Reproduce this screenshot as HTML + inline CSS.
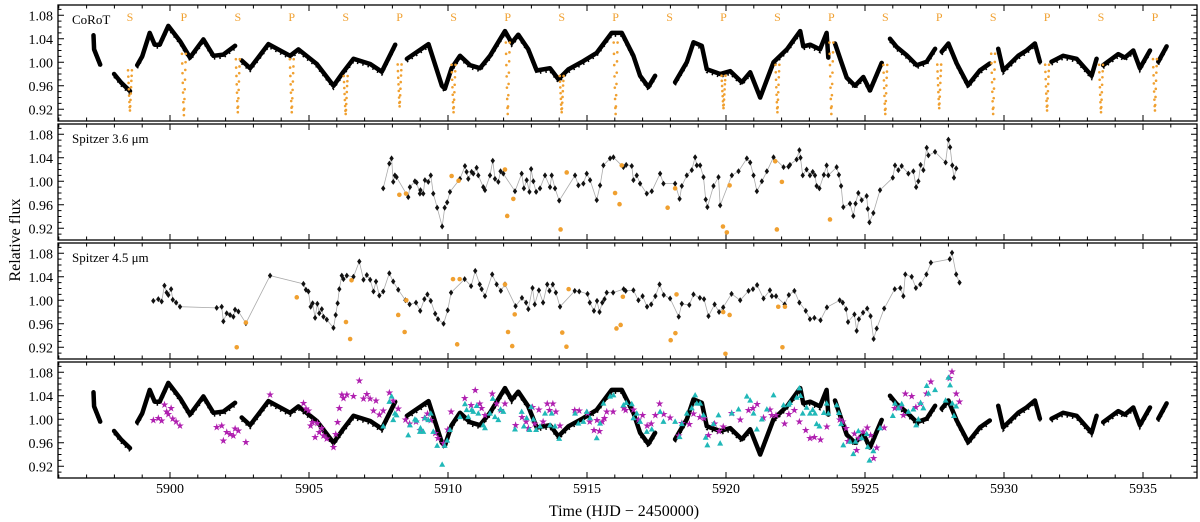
<!DOCTYPE html>
<html><head><meta charset="utf-8"><style>
html,body{margin:0;padding:0;background:#fff;}
svg{display:block;font-family:"Liberation Serif","DejaVu Serif",serif;}
</style></head><body>
<svg id="chart" width="1200" height="522" viewBox="0 0 1200 522" xmlns="http://www.w3.org/2000/svg">
<text x="0" y="0" transform="translate(20,240) rotate(-90)" text-anchor="middle" font-size="16">Relative flux</text>
<text x="624" y="516" text-anchor="middle" font-size="16">Time (HJD − 2450000)</text>
</svg>
<script>
// ---- data ----
const corotT=[5897.25,5897.27,5897.49,null,5897.99,5898.25,5898.56,null,5898.82,5899.0,5899.27,5899.45,5899.63,5899.94,5900.36,5900.72,5901.2,5901.56,5901.92,5902.34,null,5902.58,5902.88,5903.54,5904.32,5904.62,5905.28,5905.88,5906.24,5906.6,5907.2,5907.62,5908.1,null,5908.52,5909.3,5909.78,5909.89,5910.13,5910.43,5910.79,5911.15,5911.51,5912.05,5912.29,5912.53,5912.89,5913.19,5913.67,5913.97,5914.33,5914.87,5915.35,5915.89,5916.25,5916.67,5916.91,5917.21,5917.45,null,5918.17,5918.59,5918.83,5919.13,5919.31,5919.79,5920.15,5920.57,5920.87,5921.23,5921.71,5922.19,5922.67,5922.78,5923.03,5923.38,5923.62,5923.68,null,5923.92,5924.16,5924.34,5924.64,5924.94,5925.18,5925.6,null,5925.9,5926.14,5926.5,5926.86,5927.22,5927.52,null,5927.76,5928.0,5928.3,5928.71,5929.13,5929.49,null,5929.79,5929.97,5930.51,5930.81,5931.11,5931.29,null,5931.71,5932.13,5932.61,5933.15,5933.33,null,5933.57,5934.11,5934.35,5934.65,5934.89,5935.25,null,5935.55,5935.85];
const corotF=[1.046,1.022,0.996,null,0.980,0.965,0.951,null,0.995,1.010,1.050,1.030,1.030,1.062,1.036,1.008,1.039,1.011,1.013,1.028,null,1.003,0.990,1.031,1.011,1.022,0.997,0.960,0.984,1.006,0.997,0.984,1.030,null,1.006,1.031,0.960,0.955,0.990,1.011,0.995,0.990,1.011,1.053,1.033,1.047,1.022,0.986,0.990,0.971,0.988,1.002,1.016,1.050,1.050,1.011,0.977,0.958,0.977,null,0.966,1.000,1.034,1.028,0.988,0.980,0.985,0.966,0.983,0.940,1.000,1.022,1.053,1.027,1.030,1.022,1.050,1.008,null,1.032,0.999,0.974,0.960,0.975,0.952,0.999,null,1.040,1.026,1.012,0.995,1.001,1.023,null,1.018,1.032,0.998,0.961,0.986,0.998,null,1.023,0.986,1.011,1.020,1.032,1.001,null,1.001,1.011,1.006,0.977,1.006,null,0.995,1.014,1.008,1.020,0.990,1.020,null,1.001,1.027];
const eclipseT=[5898.56,5900.50,5902.44,5904.38,5906.32,5908.26,5910.20,5912.15,5914.09,5916.03,5917.97,5919.91,5921.85,5923.79,5925.73,5927.67,5929.61,5931.55,5933.49,5935.43];
const eclipseLabel=["S","P","S","P","S","P","S","P","S","P","S","P","S","P","S","P","S","P","S","P"];
const eclipseBase=[0.990,1.020,1.010,1.010,0.980,1.000,1.000,1.040,0.980,1.040,null,0.980,1.000,1.040,1.000,1.000,1.020,1.000,1.000,1.010];
const eclipseMin=[0.918,0.910,0.915,0.915,0.912,0.925,0.915,0.912,0.915,0.912,null,0.922,0.915,0.912,0.912,0.922,0.912,0.918,0.915,0.918];
const eclipseShapeDt=[-0.07,-0.06,-0.05,-0.04,-0.03,-0.02,-0.01,0.0,0.01,0.02,0.03,0.04,0.05,0.06,0.07];
const eclipseShapeDepth=[0.05,0.2,0.35,0.5,0.65,0.8,0.92,1.0,0.9,0.75,0.6,0.45,0.3,0.18,0.05];

const s36T=[5907.67,5907.89,5907.97,5908.03,5908.09,5908.15,5908.57,5908.63,5908.81,5908.87,5908.99,5909.01,5909.11,5909.17,5909.29,5909.38,5909.47,5909.61,5909.79,5909.88,5909.97,5910.07,5910.43,5910.61,5910.67,5910.73,5910.85,5910.91,5911.03,5911.09,5911.27,5911.33,5911.51,5911.61,5911.69,5911.81,5911.89,5911.99,5912.41,5912.65,5912.73,5912.83,5912.93,5912.99,5913.07,5913.17,5913.31,5913.49,5913.67,5913.73,5913.85,5914.00,5914.57,5914.69,5914.87,5914.99,5915.11,5915.35,5915.47,5915.59,5915.83,5915.95,5916.31,5916.41,5916.61,5916.67,5916.79,5916.91,5917.15,5917.33,5917.63,5917.75,5918.17,5918.33,5918.41,5918.59,5918.77,5918.89,5918.95,5919.07,5919.19,5919.27,5919.33,5919.55,5919.73,5919.79,5920.21,5920.45,5920.75,5920.87,5920.99,5921.11,5921.29,5921.47,5921.71,5922.07,5922.25,5922.30,5922.54,5922.64,5922.68,5922.76,5922.90,5923.02,5923.12,5923.20,5923.26,5923.36,5923.52,5923.62,5923.68,5923.98,5924.06,5924.14,5924.22,5924.46,5924.58,5924.66,5924.76,5924.88,5925.06,5925.10,5925.16,5925.30,5925.54,5926.00,5926.08,5926.20,5926.32,5926.56,5926.74,5926.84,5926.92,5927.00,5927.10,5927.22,5927.28,5927.52,5927.90,5928.00,5928.06,5928.14,5928.20,5928.28];
const s36F=[0.988,1.030,1.039,0.999,1.010,1.007,0.973,0.990,1.000,0.998,0.979,0.985,0.979,1.002,0.999,1.010,0.979,0.955,0.923,0.955,0.964,0.982,1.004,1.026,1.016,1.004,1.016,1.013,1.023,1.010,0.990,0.985,1.010,1.035,1.004,0.999,1.017,1.013,0.983,1.013,0.988,1.002,0.982,1.021,1.000,0.982,0.988,1.010,0.990,1.010,0.988,0.967,1.010,0.993,0.996,1.013,1.002,0.968,0.993,1.027,1.039,1.041,1.024,1.028,1.026,1.002,1.010,0.996,0.979,0.983,1.013,0.996,0.996,0.970,0.992,1.010,1.019,1.041,1.027,1.027,1.007,0.969,0.956,0.992,1.007,0.959,1.010,1.017,1.039,1.032,1.010,0.983,1.000,1.017,1.041,1.024,1.025,1.028,1.037,1.053,1.040,1.010,1.020,1.010,1.016,1.010,0.992,0.988,1.011,1.027,1.010,1.024,1.011,0.992,0.956,0.962,0.941,0.962,0.980,0.968,0.975,0.953,0.930,0.946,0.985,1.006,1.027,1.019,1.026,1.013,1.017,0.990,1.000,1.028,1.019,1.057,1.044,1.050,1.032,1.071,1.058,1.027,1.006,1.022];
const s36EclT=[5908.25,5908.49,5910.13,5910.38,5912.05,5912.13,5912.35,5914.05,5914.27,5916.01,5916.17,5916.25,5917.90,5918.17,5919.89,5920.03,5920.13,5921.77,5921.83,5922.01,5923.74];
const s36EclF=[0.977,0.979,1.009,1.001,1.020,0.941,0.970,0.918,1.015,0.980,0.961,1.027,0.955,0.988,0.923,0.913,0.993,1.034,0.918,0.999,0.935];

const s45T=[5899.40,5899.58,5899.70,5899.80,5899.88,5899.94,5900.04,5900.10,5900.22,5900.36,5901.68,5901.86,5901.92,5902.04,5902.16,5902.28,5902.34,5902.46,5902.73,5903.60,5904.80,5904.89,5904.98,5905.06,5905.13,5905.22,5905.30,5905.37,5905.46,5905.52,5905.64,5905.88,5905.96,5906.03,5906.09,5906.18,5906.24,5906.36,5906.60,5906.81,5906.96,5907.08,5907.20,5907.32,5907.41,5907.53,5907.67,5907.89,5908.03,5908.21,5908.47,5908.62,5908.85,5909.00,5909.15,5909.26,5909.38,5909.54,5909.64,5909.84,5909.99,5910.11,5910.60,5910.83,5910.98,5911.14,5911.21,5911.33,5911.59,5911.75,5911.90,5912.05,5912.43,5912.66,5912.81,5912.89,5913.04,5913.12,5913.27,5913.42,5913.57,5913.65,5913.77,5913.88,5914.03,5914.56,5914.72,5915.02,5915.10,5915.25,5915.36,5915.45,5915.55,5915.63,5915.71,5915.94,5916.32,5916.39,5916.67,5916.85,5917.00,5917.16,5917.31,5917.46,5917.61,5917.76,5917.99,5918.30,5918.41,5918.68,5918.83,5919.06,5919.21,5919.37,5919.59,5919.75,5919.90,5920.20,5920.51,5920.81,5920.97,5921.12,5921.35,5921.58,5921.65,5921.80,5922.11,5922.26,5922.46,5922.64,5922.87,5923.02,5923.18,5923.40,5923.63,5924.09,5924.20,5924.32,5924.39,5924.62,5924.70,5924.78,5924.93,5925.08,5925.20,5925.31,5925.42,5925.69,5926.07,5926.27,5926.38,5926.45,5926.68,5926.83,5926.99,5927.21,5927.37,5928.05,5928.13,5928.28,5928.40];
const s45F=[0.999,1.002,0.998,1.025,1.013,1.009,1.019,1.001,0.996,0.989,0.987,0.989,0.964,0.978,0.975,0.972,0.984,0.981,0.961,1.042,1.028,1.018,1.015,0.989,0.995,0.970,0.994,0.978,0.985,0.972,0.967,0.953,0.975,0.995,1.019,1.042,1.036,1.042,1.040,1.066,1.035,1.043,1.035,1.015,1.032,1.008,1.015,1.046,1.032,1.018,1.000,0.993,0.996,0.982,1.002,1.010,0.999,0.977,0.968,0.960,0.983,1.013,1.036,1.024,1.050,1.027,1.019,1.007,1.044,1.027,1.016,1.027,0.990,1.004,0.996,0.985,1.021,0.993,1.017,0.996,1.027,1.016,1.027,1.013,0.989,1.016,1.015,1.011,0.996,0.982,0.999,0.980,0.996,1.002,1.013,1.013,1.019,1.016,1.017,1.000,1.007,0.989,0.993,1.007,1.027,1.009,1.003,0.972,0.994,0.992,1.010,1.004,1.002,0.973,0.993,0.980,0.988,1.011,1.000,1.016,1.019,1.026,1.003,1.017,1.007,1.007,0.993,1.009,1.016,0.996,0.982,0.968,0.970,0.966,0.988,1.000,0.996,0.985,0.963,0.976,0.948,0.968,0.979,0.986,0.973,0.934,0.952,0.986,1.019,1.021,1.007,1.044,1.040,1.021,1.027,1.044,1.064,1.070,1.081,1.044,1.030];
const s45EclT=[5902.40,5902.73,5904.56,5906.33,5906.48,5906.53,5908.21,5908.44,5908.50,5910.18,5910.33,5910.42,5912.05,5912.16,5912.31,5912.40,5914.11,5914.26,5914.34,5916.06,5916.21,5916.29,5918.01,5918.18,5918.22,5919.90,5919.98,5920.13,5921.88,5922.03,5922.12];
const s45EclF=[0.920,0.962,1.005,0.963,0.934,1.034,0.975,0.946,1.000,1.036,0.925,1.036,1.027,0.946,0.922,0.976,0.945,0.921,1.019,0.952,0.958,1.006,0.932,0.944,1.010,0.980,0.909,0.975,0.989,0.920,0.989];

const xTickLabels=["5900","5905","5910","5915","5920","5925","5930","5935"];
const yTickLabels=["0.92","0.96","1.00","1.04","1.08"];
const panelLabels=["CoRoT","Spitzer 3.6 μm","Spitzer 4.5 μm",""];

// ---- layout ----
const NS="http://www.w3.org/2000/svg";
const svg=document.getElementById('chart');
const L=58,R=1197,PH=116;
const tops=[5,124,243,362];
function X(t){return 170+(t-5900)*27.8;}
function Y(p,f){return tops[p]+(1.0975-f)*587.5;}
function el(tag,attrs,parent){const e=document.createElementNS(NS,tag);for(const k in attrs)e.setAttribute(k,attrs[k]);(parent||svg).appendChild(e);return e;}
const ORANGE="#f0a030";

for(let p=0;p<4;p++){
  const g=el('g',{});
  
  
  const fr=el('rect',{x:L,y:tops[p],width:R-L,height:PH,fill:'none',stroke:'#000','stroke-width':1.3},g);
  
  
  let d='';
  for(let t=5896;t<=5936;t++){
    const x=X(t); if(x<L||x>R) continue;
    const len=(t%5===0)?6:3.5;
    d+=`M${x} ${tops[p]+PH}v${-len}M${x} ${tops[p]}v${len}`;
  }
  for(let k=90;k<=109;k++){
    const f=k/100, y=Y(p,f); if(y<tops[p]||y>tops[p]+PH) continue;
    const len=(k%4===0)?6:3.5;
    d+=`M${L} ${y}h${len}M${R} ${y}h${-len}`;
  }
  const tk=el('path',{d:d,stroke:'#000','stroke-width':1,fill:'none'},g);
  
  
  yTickLabels.forEach(s=>{
    const tx=el('text',{x:53,y:Y(p,parseFloat(s))+5,'text-anchor':'end','font-size':14},g);
    tx.textContent=s;
    
    
  });
  if(panelLabels[p]){
    const lb=el('text',{x:72,y:tops[p]+19,'font-size':13},g);
    lb.textContent=panelLabels[p];
    
    
  }
}
xTickLabels.forEach(s=>{
  const tx=el('text',{x:X(parseFloat(s)),y:493,'text-anchor':'middle','font-size':14});
  tx.textContent=s;
  
  
});

function corot(p){
  let d='',pen=false;
  for(let i=0;i<corotT.length;i++){
    if(corotT[i]===null){pen=false;continue;}
    d+=(pen?'L':'M')+X(corotT[i]).toFixed(1)+' '+Y(p,corotF[i]).toFixed(1);
    pen=true;
  }
  const pl=el('path',{d:d,fill:'none',stroke:'#000','stroke-width':4.5,'stroke-linejoin':'round','stroke-linecap':'round'});
  
  
  const sc=el('path',{d:d,fill:'none',stroke:'#000','stroke-width':2,'stroke-dasharray':'1.5 4','transform':'translate(0,3)'});
  
  
}
corot(0);
eclipseT.forEach((t,i)=>{
  const lb=el('text',{x:X(t),y:tops[0]+16,'text-anchor':'middle','font-size':12,fill:ORANGE});
  lb.textContent=eclipseLabel[i];
  
  
  if(eclipseBase[i]===null) return;
  const depth=eclipseBase[i]-eclipseMin[i];
  eclipseShapeDt.forEach((dt,j)=>{
    const c=el('circle',{cx:X(t+dt),cy:Y(0,eclipseBase[i]-depth*eclipseShapeDepth[j]),r:1.3,fill:ORANGE});
    
    
  });
});

function spitzer(p,T,F,ET,EF){
  let d='';
  T.forEach((t,i)=>{d+=(i?'L':'M')+X(t).toFixed(1)+' '+Y(p,F[i]).toFixed(1);});
  const ln=el('path',{d:d,fill:'none',stroke:'#aaa','stroke-width':0.8});
  
  
  T.forEach((t,i)=>{
    const x=X(t),y=Y(p,F[i]);
    const m=el('path',{d:`M${x} ${y-3}L${x+2.2} ${y}L${x} ${y+3}L${x-2.2} ${y}Z`,fill:'#111'});
    
    
  });
  ET.forEach((t,i)=>{
    const c=el('circle',{cx:X(t),cy:Y(p,EF[i]),r:2.3,fill:ORANGE});
    
    
  });
}
spitzer(1,s36T,s36F,s36EclT,s36EclF);
spitzer(2,s45T,s45F,s45EclT,s45EclF);

corot(3);
s45T.forEach((t,i)=>{
  const s=el('text',{x:X(t),y:Y(3,s45F[i])+3.5,'text-anchor':'middle','font-size':10,fill:'#b020b0','font-family':'DejaVu Sans'});
  s.textContent='★';
  
  
});
s36T.forEach((t,i)=>{
  const x=X(t),y=Y(3,s36F[i]);
  const m=el('path',{d:`M${x} ${y-3.2}L${x+3} ${y+2.2}L${x-3} ${y+2.2}Z`,fill:'#20b8b8'});
  
  
});
</script>
</body></html>
